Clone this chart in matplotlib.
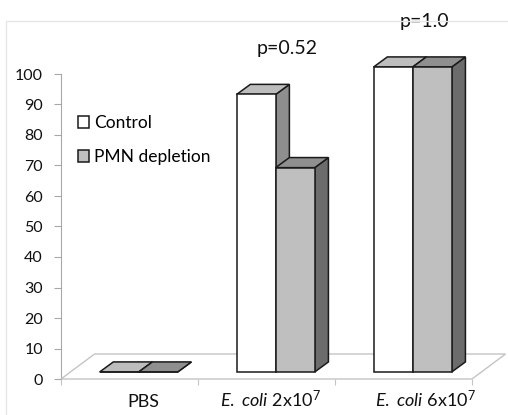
import matplotlib
matplotlib.use('Agg')
import matplotlib.pyplot as plt
from matplotlib.patches import Polygon, Rectangle

plt.rcParams['font.family'] = ['Lato', 'DejaVu Sans']
plt.rcParams['mathtext.fontset'] = 'custom'
plt.rcParams['mathtext.rm'] = 'Lato'
plt.rcParams['mathtext.it'] = 'Lato:italic'

CATEGORIES = ['PBS', r'$\mathit{E.}$ $\mathit{coli}$ 2x10$^{7}$', r'$\mathit{E.}$ $\mathit{coli}$ 6x10$^{7}$']
CONTROL = [0, 91, 100]
PMN = [0, 67, 100]
SERIES_NAMES = ['Control', 'PMN depletion']
P_VALUES = ['p=0.52', 'p=1.0']

# colours: (front, top, side)
CONTROL_COLORS = ('#ffffff', '#bdbdbd', '#8e8e8e')
PMN_COLORS = ('#bfbfbf', '#8f8f8f', '#6c6c6c')

BAR_W = 0.285          # width of one bar, in category units
BAR_DX, BAR_DY = 0.10, 3.3    # depth of a bar
FLOOR_DX, FLOOR_DY = 0.245, 8.2
FRONT_DX, FRONT_DY = 0.067, 2.3   # bars stand a little behind the front edge

LABEL_X = [0.6, 1.53, 2.66]
P_POS = [(1.65, 106.5), (2.65, 115.5)]


def bar3d(ax, xl, v, colors):
    front, top, side = colors
    b = FRONT_DY
    ax.add_patch(Polygon([(xl + BAR_W, b), (xl + BAR_W, b + v),
                          (xl + BAR_W + BAR_DX, b + v + BAR_DY), (xl + BAR_W + BAR_DX, b + BAR_DY)],
                         closed=True, fc=side, ec='#1a1a1a', lw=1.1, clip_on=False, zorder=3))
    ax.add_patch(Polygon([(xl, b + v), (xl + BAR_W, b + v),
                          (xl + BAR_W + BAR_DX, b + v + BAR_DY), (xl + BAR_DX, b + v + BAR_DY)],
                         closed=True, fc=top, ec='#1a1a1a', lw=1.1, clip_on=False, zorder=3))
    return ax.bar(xl, v, width=BAR_W, bottom=b, align='edge', color=front,
                  edgecolor='#1a1a1a', linewidth=1.1, clip_on=False, zorder=3)


def main():
    fig = plt.figure(figsize=(5.08, 4.15), dpi=100)
    ax = fig.add_axes([61 / 508, 36 / 415, 411 / 508, 305 / 415])
    ax.set_xlim(0, 3)
    ax.set_ylim(0, 100)

    # faint chart border
    fig.patches.append(Rectangle((6 / 508, -0.05), 1.2, (415 - 21) / 415 + 0.05,
                                 transform=fig.transFigure, fill=False,
                                 ec='#e6e6e6', lw=1.0))

    # floor
    n = len(CATEGORIES)
    ax.add_patch(Polygon([(0, 0), (n, 0), (n + FLOOR_DX, FLOOR_DY), (FLOOR_DX, FLOOR_DY)],
                         closed=True, fc='white', ec='#c4c4c4', lw=1.0, clip_on=False, zorder=1))

    handles = []
    for i in range(n):
        xl = i + 0.5 + FRONT_DX - BAR_W
        h1 = bar3d(ax, xl, CONTROL[i], CONTROL_COLORS)
        h2 = bar3d(ax, xl + BAR_W, PMN[i], PMN_COLORS)
        if i == 0:
            handles = [h1, h2]

    for i, lab in enumerate(CATEGORIES):
        ax.text(LABEL_X[i], -9.3, lab, ha='center', va='baseline', fontsize=13, color='#111111')

    for (x, y), p in zip(P_POS, P_VALUES):
        ax.text(x, y, p, ha='center', va='baseline', fontsize=14, color='#111111')

    for s in ['top', 'right', 'bottom']:
        ax.spines[s].set_visible(False)
    ax.spines['left'].set_color('#a8a8a8')
    ax.spines['left'].set_zorder(0.5)
    ax.set_yticks(range(0, 101, 10))
    ax.tick_params(axis='y', length=5, color='#a8a8a8', pad=8, labelsize=11.5, labelcolor='#111111')
    ax.set_xticks(range(n + 1))
    ax.set_xticklabels([])
    ax.tick_params(axis='x', length=4, color='#c4c4c4')

    ax.legend(handles, SERIES_NAMES, loc='center left', bbox_to_anchor=(78 / 508, 1 - 140 / 415),
              bbox_transform=fig.transFigure, frameon=False, fontsize=12.5,
              handlelength=0.65, handleheight=0.65, handletextpad=0.3,
              labelspacing=1.05, borderpad=0, borderaxespad=0)

    fig.savefig('out.png', dpi=100)
    plt.close(fig)


if __name__ == '__main__':
    main()
